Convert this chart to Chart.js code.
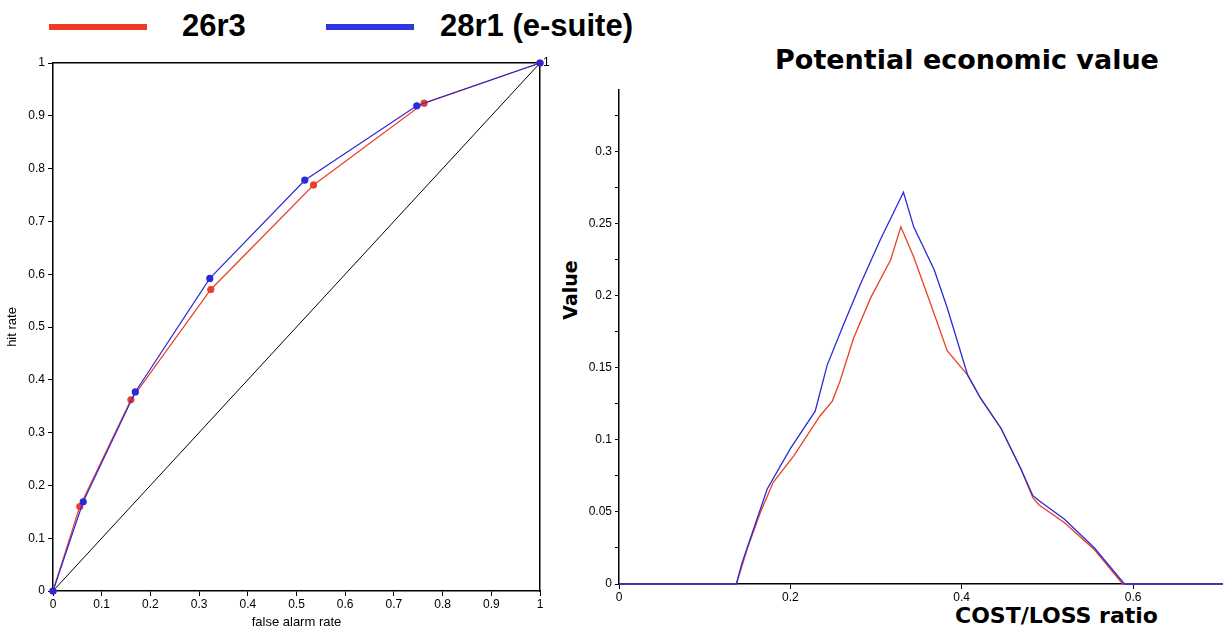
<!DOCTYPE html>
<html>
<head>
<meta charset="utf-8">
<script src="https://cdn.jsdelivr.net/npm/chart.js@4.4.1/dist/chart.umd.min.js"></script>
<style>
  html, body { margin: 0; padding: 0; background: #fff; }
  body { width: 1223px; height: 631px; position: relative; overflow: hidden; font-family: "Liberation Sans", Arial, sans-serif; }
  #roc { position: absolute; left: 0; top: 0; }
  #pev { position: absolute; left: 555px; top: 0; }
  .swatch { position: absolute; height: 6px; }
  .legtext { position: absolute; top: 8px; line-height: 31px; font: bold 31px "Liberation Sans", Arial, sans-serif; color: #000; white-space: nowrap; }
  #pevTitle { position: absolute; left: 767px; top: 44px; width: 400px; text-align: center; font: bold 27px "DejaVu Sans", sans-serif; color: #000; white-space: nowrap; }
  #pevXTitle { position: absolute; left: 955px; top: 603px; width: 200px; line-height: 26px; text-align: center; font: bold 22px "DejaVu Sans", sans-serif; color: #000; white-space: nowrap; }
  #pevYTitle { position: absolute; left: 520px; top: 279px; width: 100px; line-height: 26px; text-align: center; font: bold 19px "DejaVu Sans", sans-serif; color: #000; white-space: nowrap; transform: rotate(-90deg); transform-origin: 50% 50%; }
</style>
</head>
<body>
<div class="swatch" style="left:49px; top:24px; width:98px; background:#f03a22;"></div>
<div class="legtext" style="left:182px;">26r3</div>
<div class="swatch" style="left:326px; top:24px; width:88px; background:#2f35e0;"></div>
<div class="legtext" style="left:440px;">28r1 (e-suite)</div>
<div id="pevTitle">Potential economic value</div>
<div id="pevXTitle">COST/LOSS ratio</div>
<div id="pevYTitle">Value</div>
<canvas id="roc" width="570" height="631"></canvas>
<canvas id="pev" width="668" height="631"></canvas>
<script>
// ROC points: false alarm rate / hit rate for each model cycle
const far26r3 = [0, 0.055, 0.160, 0.324, 0.535, 0.762, 1];
const hr26r3  = [0, 0.160, 0.362, 0.571, 0.769, 0.924, 1];
const far28r1 = [0, 0.062, 0.169, 0.322, 0.517, 0.747, 1];
const hr28r1  = [0, 0.169, 0.377, 0.592, 0.778, 0.919, 1];
const noSkill = [0, 1];

// Potential economic value against cost/loss ratio
const cl26r3  = [0, 0.137, 0.150, 0.165, 0.180, 0.204, 0.235, 0.249, 0.258, 0.274, 0.294, 0.317, 0.329, 0.344, 0.364, 0.383, 0.407, 0.422, 0.446, 0.469, 0.483, 0.490, 0.520, 0.555, 0.588, 0.705];
const ev26r3  = [0, 0,     0.025, 0.0496, 0.0706, 0.089, 0.117, 0.127, 0.141, 0.171, 0.199, 0.225, 0.248, 0.227, 0.194, 0.162, 0.145, 0.129, 0.108, 0.080, 0.060, 0.055, 0.0426, 0.0238, 0, 0];
const cl28r1  = [0, 0.137, 0.1435, 0.157, 0.173, 0.200, 0.229, 0.243, 0.262, 0.282, 0.305, 0.332, 0.344, 0.368, 0.383, 0.407, 0.422, 0.446, 0.469, 0.483, 0.490, 0.520, 0.555, 0.590, 0.705];
const ev28r1  = [0, 0,     0.0145, 0.038, 0.066, 0.094, 0.120, 0.152, 0.180, 0.2085, 0.239, 0.272, 0.248, 0.218, 0.192, 0.145, 0.129, 0.108, 0.080, 0.0615, 0.058, 0.045, 0.025, 0, 0];

// Tick values and their labels
const rocTicks      = [0, 0.1, 0.2, 0.3, 0.4, 0.5, 0.6, 0.7, 0.8, 0.9, 1];
const rocTickLabels = ['0', '0.1', '0.2', '0.3', '0.4', '0.5', '0.6', '0.7', '0.8', '0.9', '1'];
const evXTicks      = [0, 0.2, 0.4, 0.6];
const evXTickLabels = ['0', '0.2', '0.4', '0.6'];
const evYTicks      = [0, 0.025, 0.05, 0.075, 0.1, 0.125, 0.15, 0.175, 0.2, 0.225, 0.25, 0.275, 0.3, 0.325];
const evYTickLabels = ['0', '', '0.05', '', '0.1', '', '0.15', '', '0.2', '', '0.25', '', '0.3', ''];

const RED = '#e8402a';
const BLUE = '#2a2ad8';
const pts = (xs, ys) => xs.map((x, i) => ({ x: x, y: ys[i] }));
const tickFont = { family: '"Liberation Sans", Arial, sans-serif', size: 12 };

function fixedTicks(values) {
  return axis => { axis.ticks = values.map(v => ({ value: v })); };
}
function labelFrom(values, labels) {
  return (v) => {
    const i = values.findIndex(t => Math.abs(t - v) < 1e-9);
    return i >= 0 ? labels[i] : '';
  };
}

Chart.defaults.animation = false;
Chart.defaults.color = '#000';

// ROC diagram
new Chart(document.getElementById('roc'), {
  type: 'scatter',
  data: {
    datasets: [
      { label: '28r1 (e-suite)', data: pts(far28r1, hr28r1), showLine: true, borderColor: BLUE, backgroundColor: BLUE,
        borderWidth: 1.2, pointRadius: 3, pointHoverRadius: 3, order: 1, clip: false },
      { label: '26r3', data: pts(far26r3, hr26r3), showLine: true, borderColor: RED, backgroundColor: RED,
        borderWidth: 1.2, pointRadius: 3, pointHoverRadius: 3, order: 2, clip: false },
      { label: 'no skill', data: pts(noSkill, noSkill), showLine: true, borderColor: '#000', backgroundColor: '#000',
        borderWidth: 1, pointRadius: 0, order: 3 }
    ]
  },
  options: {
    responsive: false,
    layout: { padding: { top: 63, left: 0, right: 0, bottom: 0 } },
    plugins: { legend: { display: false }, tooltip: { enabled: false } },
    scales: {
      x: {
        type: 'linear', position: 'bottom', min: 0, max: 1,
        afterBuildTicks: fixedTicks(rocTicks),
        afterFit: s => { s.height = 40; },
        ticks: { font: tickFont, padding: 1, maxRotation: 0, callback: labelFrom(rocTicks, rocTickLabels) },
        grid: { drawOnChartArea: false, drawTicks: true, tickLength: 5, color: '#000' },
        border: { display: true, color: '#000', width: 1.5 },
        title: { display: true, text: 'false alarm rate', font: { family: '"Liberation Sans", Arial, sans-serif', size: 13 }, padding: { top: 0, bottom: 1 } }
      },
      x2: {
        type: 'linear', position: 'top', min: 0, max: 1,
        afterFit: s => { s.height = 0; },
        ticks: { display: false },
        grid: { drawOnChartArea: false, drawTicks: false },
        border: { display: true, color: '#000', width: 1.5 }
      },
      y: {
        type: 'linear', position: 'left', min: 0, max: 1,
        afterBuildTicks: fixedTicks(rocTicks),
        afterFit: s => { s.width = 53; },
        ticks: { font: tickFont, padding: 3, callback: labelFrom(rocTicks, rocTickLabels) },
        grid: { drawOnChartArea: false, drawTicks: true, tickLength: 5, color: '#000' },
        border: { display: true, color: '#000', width: 1.5 },
        title: { display: true, text: 'hit rate', font: { family: '"Liberation Sans", Arial, sans-serif', size: 13 }, padding: { top: 5, bottom: 0 } }
      },
      y2: {
        type: 'linear', position: 'right', min: 0, max: 1,
        afterBuildTicks: fixedTicks([1]),
        afterFit: s => { s.width = 30; },
        ticks: { font: tickFont, padding: 3, callback: () => '1' },
        grid: { drawOnChartArea: false, drawTicks: false },
        border: { display: true, color: '#000', width: 1.5 }
      }
    }
  }
});

// Potential economic value diagram
new Chart(document.getElementById('pev'), {
  type: 'scatter',
  data: {
    datasets: [
      { label: '28r1 (e-suite)', data: pts(cl28r1, ev28r1), showLine: true, borderColor: BLUE,
        borderWidth: 1.3, pointRadius: 0, order: 1, clip: false },
      { label: '26r3', data: pts(cl26r3, ev26r3), showLine: true, borderColor: RED,
        borderWidth: 1.3, pointRadius: 0, order: 2, clip: false }
    ]
  },
  options: {
    responsive: false,
    layout: { padding: { top: 90, left: 0, right: 0, bottom: 0 } },
    plugins: { legend: { display: false }, tooltip: { enabled: false } },
    scales: {
      x: {
        type: 'linear', position: 'bottom', min: 0, max: 0.705,
        afterBuildTicks: fixedTicks(evXTicks),
        afterFit: s => { s.height = 47; },
        ticks: { font: tickFont, padding: 1, maxRotation: 0, callback: labelFrom(evXTicks, evXTickLabels) },
        grid: { drawOnChartArea: false, drawTicks: true, tickLength: 5, color: '#000' },
        border: { display: true, color: '#000', width: 1.5 }
      },
      y: {
        type: 'linear', position: 'left', min: 0, max: 0.343,
        afterBuildTicks: fixedTicks(evYTicks),
        afterFit: s => { s.width = 64; },
        ticks: { font: tickFont, padding: 3, autoSkip: false, callback: labelFrom(evYTicks, evYTickLabels) },
        grid: { drawOnChartArea: false, drawTicks: true, tickLength: 4, color: '#000' },
        border: { display: true, color: '#000', width: 1.5 }
      }
    }
  }
});
</script>
</body>
</html>
